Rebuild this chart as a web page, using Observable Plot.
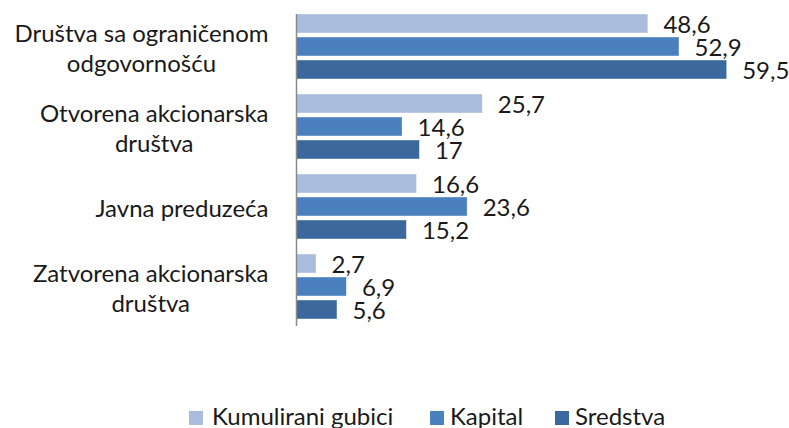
<!DOCTYPE html>
<html>
<head>
<meta charset="utf-8">
<script src="https://cdn.jsdelivr.net/npm/d3@7"></script>
<script src="https://cdn.jsdelivr.net/npm/@observablehq/plot@0.6"></script>
<style>
  html, body { margin: 0; padding: 0; background: #fff; }
  #wrap { position: relative; width: 789px; height: 428px; overflow: hidden; font-family: Lato, sans-serif; }
  #legend { position: absolute; left: 0; top: 0; width: 789px; height: 428px; pointer-events: none; }
  .sw { position: absolute; width: 14px; height: 14px; top: 411px; }
  .lt { position: absolute; top: 402px; font-size: 24px; line-height: 28px; color: #1a1a1a; white-space: nowrap; }
</style>
</head>
<body>
<div id="wrap"><div id="chart"></div><div id="legend"></div></div>
<script>
const categories = ["Društva sa ograničenom odgovornošću", "Otvorena akcionarska društva", "Javna preduzeća", "Zatvorena akcionarska društva"];
const categoryLines = [["Društva sa ograničenom", "odgovornošću"], ["Otvorena akcionarska", "društva"], ["Javna preduzeća"], ["Zatvorena akcionarska", "društva"]];
const series = ["Kumulirani gubici", "Kapital", "Sredstva"];
const gubici = [48.6, 25.7, 16.6, 2.7];
const kapital = [52.9, 14.6, 23.6, 6.9];
const sredstva = [59.5, 17, 15.2, 5.6];
const colors = ["#aabcdb", "#4a80be", "#3c699d"];

const seriesValues = [gubici, kapital, sredstva];
const data = [];
categories.forEach((c, i) => {
  series.forEach((s, j) => {
    data.push({cat: c, series: s, value: seriesValues[j][i]});
  });
});
const fmt = v => String(v).replace(".", ",");

const FONT = 24;
const ctx = document.createElement("canvas").getContext("2d");
ctx.font = `${FONT}px Lato`;
const labelGap = 28.5;

const labelMarks = categories.map((c, i) => {
  const w = d3.max(categoryLines[i], l => ctx.measureText(l).width);
  return Plot.text([c], {
    fy: d => d,
    text: () => categoryLines[i].join("\n"),
    frameAnchor: "left",
    textAnchor: "middle",
    dx: -(labelGap + w / 2),
    fontSize: FONT,
    lineHeight: 1.25,
    fill: "#1a1a1a"
  });
});

const plot = Plot.plot({
  width: 789,
  height: 380,
  marginLeft: 296.5,
  marginRight: 62.3,
  marginTop: 14,
  marginBottom: 61,
  style: {fontFamily: "Lato, sans-serif", overflow: "visible"},
  x: {domain: [0, 59.5], axis: null},
  fy: {domain: categories, paddingInner: 0.1875, paddingOuter: 0, align: 0, axis: null},
  y: {domain: series, paddingInner: 0.174, paddingOuter: 0, axis: null},
  color: {domain: series, range: colors},
  marks: [
    Plot.barX(data, {fy: "cat", y: "series", x: "value", fill: "series", stroke: "#ffffff", strokeOpacity: 0.5, strokeWidth: 0.8}),
    Plot.text(data, {fy: "cat", y: "series", x: "value", text: d => fmt(d.value), textAnchor: "start", dx: 15, dy: 1, fontSize: FONT, fill: "#1a1a1a"}),
    ...labelMarks
  ]
});
document.getElementById("chart").appendChild(plot);

// vertical category axis line
const x0 = plot.scale("x").apply(0);
const fyR = plot.scale("fy").range;
d3.select(plot).append("line")
  .attr("x1", x0).attr("x2", x0)
  .attr("y1", fyR[0]).attr("y2", fyR[1] + 7)
  .attr("stroke", "#8a8a8a").attr("stroke-width", 1.5);

// legend
const legendSwatchX = [189, 430, 555];
const legendTextX = [212, 450, 575];
const legend = d3.select("#legend");
series.forEach((s, i) => {
  legend.append("div").attr("class", "sw").style("left", legendSwatchX[i] + "px").style("background", colors[i]);
  legend.append("div").attr("class", "lt").style("left", legendTextX[i] + "px").text(s);
});
</script>
</body>
</html>
